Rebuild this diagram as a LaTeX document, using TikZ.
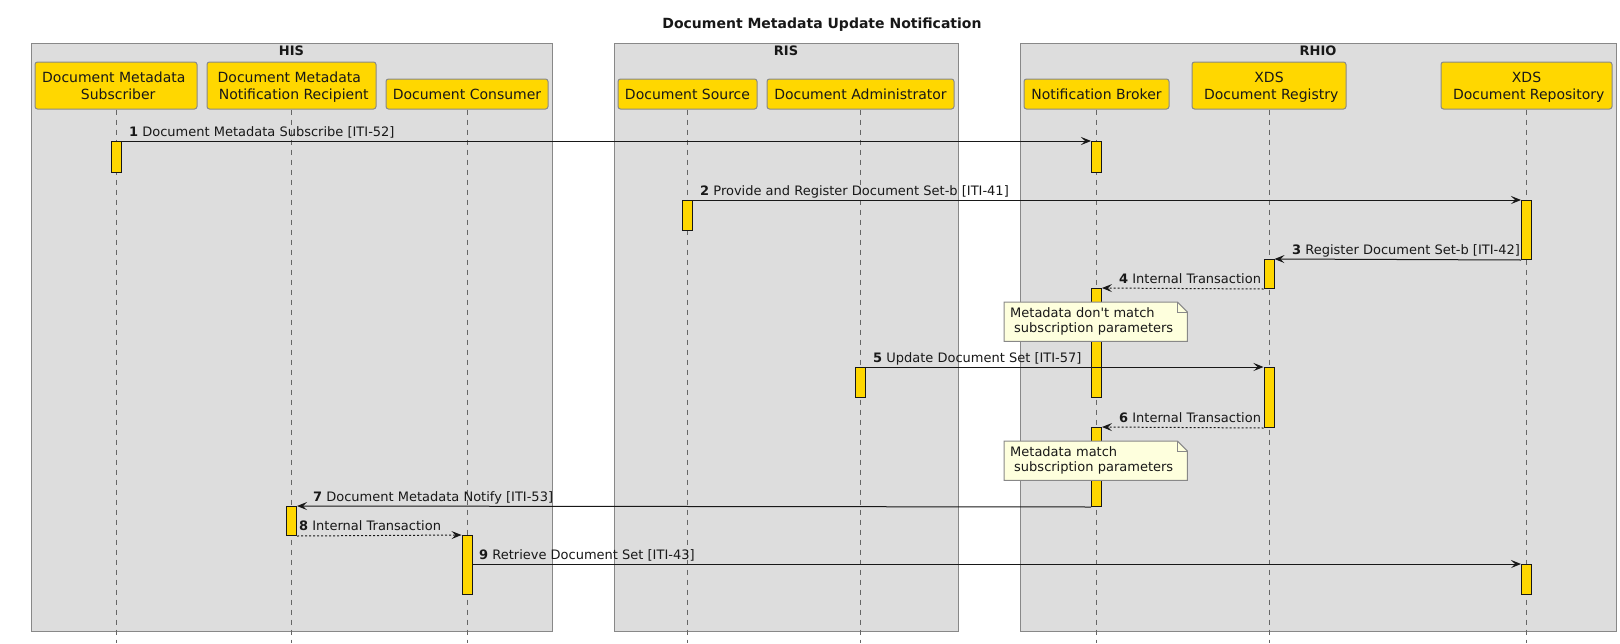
\documentclass[tikz,border=0pt]{standalone}
\usepackage{fontspec}
\setmainfont{DejaVu Sans}[Ligatures=TeXOff]
\usetikzlibrary{arrows.meta}
\definecolor{gold}{HTML}{FFD700}
\definecolor{grp}{HTML}{DDDDDD}
\definecolor{edge}{HTML}{181818}
\definecolor{notefill}{HTML}{FEFFDD}
\definecolor{gborder}{HTML}{888888}
\definecolor{lifec}{HTML}{666666}
\newcommand{\lsp}{\hspace*{4.4pt}}
\tikzset{
  grpbox/.style={draw=gborder, fill=grp, line width=1pt},
  glabel/.style={anchor=base, inner sep=0pt, font=\bfseries\fontsize{13}{15}\selectfont, text=edge},
  actor/.style={draw=gborder, fill=gold, rounded corners=2.5pt, line width=1pt, align=center,
    font=\fontsize{14}{17}\selectfont, inner sep=0pt, text depth=0pt, text=edge},
  actbar/.style={draw=edge, fill=gold, line width=1pt, minimum width=10pt, inner sep=0pt, anchor=north},
  lifeline/.style={draw=lifec, line width=1pt, dash pattern=on 5pt off 5pt},
  msg/.style={draw=edge, line width=1pt, -{Stealth[length=10pt,width=8pt,inset=4pt]}},
  retmsg/.style={msg, dash pattern=on 2pt off 2pt},
  mlabel/.style={anchor=base west, inner sep=0pt, font=\fontsize{13}{15}\selectfont, text=edge},
  notenode/.style={anchor=north west, fill=notefill, minimum height=39pt, text width=171pt,
    inner xsep=6pt, inner ysep=0pt, align=left, font=\fontsize{13}{15}\selectfont, text=edge},
  noteline/.style={draw=gborder, line width=1pt},
}
\begin{document}
\begin{tikzpicture}[x=1pt,y=-1pt]
\useasboundingbox (0,0) rectangle (1620,643);
\fill[white] (0,0) rectangle (1620,643);
\coordinate (bot) at (0,643);

% title
\node[anchor=base, inner sep=0pt, font=\bfseries\fontsize{14}{17}\selectfont, text=edge] (title) at (822,28) {Document Metadata Update Notification};

% groups
\draw[grpbox] (31,43) rectangle (552,631);
\draw[grpbox] (614,43) rectangle (958,631);
\draw[grpbox] (1020,43) rectangle (1616,631);
\node[glabel] (his) at (291.5,55) {HIS};
\node[glabel] (ris) at (786,55) {RIS};
\node[glabel] (rhio) at (1318,55) {RHIO};

% participants
\node[actor, minimum width=162pt, minimum height=47pt] (sub) at (116,85.5) {Document Metadata\lsp\\\lsp Subscriber};
\node[actor, minimum width=169pt, minimum height=47pt] (rec) at (291.5,85.5) {Document Metadata\lsp\\\lsp Notification Recipient};
\node[actor, minimum width=162pt, minimum height=30pt] (cons) at (467,94) {Document Consumer};
\node[actor, minimum width=139pt, minimum height=30pt] (src) at (687.5,94) {Document Source};
\node[actor, minimum width=187pt, minimum height=30pt] (adm) at (860.5,94) {Document Administrator};
\node[actor, minimum width=145pt, minimum height=30pt] (bro) at (1096.5,94) {Notification Broker};
\node[actor, minimum width=154pt, minimum height=47pt] (reg) at (1269,85.5) {XDS\\\lsp Document Registry};
\node[actor, minimum width=171pt, minimum height=47pt] (rep) at (1526.5,85.5) {XDS\\\lsp Document Repository};

% lifelines
\foreach \p in {sub,rec,cons,src,adm,bro,reg,rep}{
  \draw[lifeline] (\p.south) -- (\p.south |- bot);
}

% activation bars
\node[actbar, minimum height=31pt] (bsub) at (116,141) {};
\node[actbar, minimum height=31pt] (bbro1) at (1096.5,141) {};
\node[actbar, minimum height=30pt] (bsrc) at (687.5,200) {};
\node[actbar, minimum height=59pt] (brep1) at (1526.5,200) {};
\node[actbar, minimum height=29pt] (breg1) at (1269,259) {};
\node[actbar, minimum height=109pt] (bbro2) at (1096.5,288) {};
\node[actbar, minimum height=30pt] (badm) at (860.5,367) {};
\node[actbar, minimum height=60pt] (breg2) at (1269,367) {};
\node[actbar, minimum height=79pt] (bbro3) at (1096.5,427) {};
\node[actbar, minimum height=29pt] (brec) at (291.5,506) {};
\node[actbar, minimum height=59pt] (bcons) at (467,535) {};
\node[actbar, minimum height=30pt] (brep2) at (1526.5,564) {};

% messages
\draw[msg] (bsub.north east) -- (bbro1.north west);
\draw[msg] (bsrc.north east) -- (brep1.north west);
\draw[msg] (brep1.south west) -- (breg1.north east);
\draw[retmsg] (breg1.south west) -- (bbro2.north east);
\draw[msg] (badm.north east) -- (breg2.north west);
\draw[retmsg] (breg2.south west) -- (bbro3.north east);
\draw[msg] (bbro3.south west) -- (brec.north east);
\draw[retmsg] (brec.south east) -- (bcons.north west);
\draw[msg] (bcons.east |- brep2.north) -- (brep2.north west);

% message labels
\node[mlabel] (l1) at (129,136) {\textbf{1} Document Metadata Subscribe [ITI-52]};
\node[mlabel] (l2) at (700,195) {\textbf{2} Provide and Register Document Set-b [ITI-41]};
\node[mlabel] (l3) at (1292,254) {\textbf{3} Register Document Set-b [ITI-42]};
\node[mlabel] (l4) at (1119,283) {\textbf{4} Internal Transaction};
\node[mlabel] (l5) at (873,362) {\textbf{5} Update Document Set [ITI-57]};
\node[mlabel] (l6) at (1119,422) {\textbf{6} Internal Transaction};
\node[mlabel] (l7) at (313,501) {\textbf{7} Document Metadata Notify [ITI-53]};
\node[mlabel] (l8) at (299,530) {\textbf{8} Internal Transaction};
\node[mlabel] (l9) at (479,559) {\textbf{9} Retrieve Document Set [ITI-43]};

% notes
\foreach \n/\y/\t in {n1/302/{Metadata don't match\\\hspace*{4pt}subscription parameters},
                      n2/441/{Metadata match\\\hspace*{4pt}subscription parameters}}{
  \node[notenode] (\n) at (1004,\y) {\t};
  \fill[grp] ([xshift=-10pt]\n.north east) -- (\n.north east) -- ([yshift=-10pt]\n.north east) -- cycle;
  \draw[noteline] (\n.north west) -- ([xshift=-10pt]\n.north east) -- ([yshift=-10pt]\n.north east)
     -- (\n.south east) -- (\n.south west) -- cycle;
  \draw[noteline] ([xshift=-10pt]\n.north east) -- ([xshift=-10pt,yshift=-10pt]\n.north east)
     -- ([yshift=-10pt]\n.north east);
}
\end{tikzpicture}
\end{document}
